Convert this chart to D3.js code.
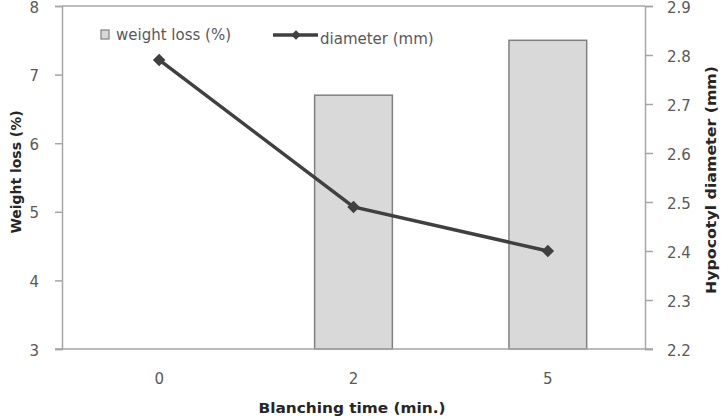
<!DOCTYPE html>
<html><head><meta charset="utf-8">
<script src="https://cdn.jsdelivr.net/npm/d3@7"></script>
<style>body{margin:0;background:#fff}svg{display:block;font-family:"DejaVu Sans",sans-serif}</style>
</head><body><svg id="c" width="721" height="417"></svg>
<script>
const categories = ["0", "2", "5"];
const weightLoss = [null, 6.7, 7.5];
const diameter = [2.79, 2.49, 2.40];
const leftTicks = [3, 4, 5, 6, 7, 8];
const rightTicks = [2.2, 2.3, 2.4, 2.5, 2.6, 2.7, 2.8, 2.9];

const svg = d3.select("#c");
const m = {l: 62, r: 645, t: 6, b: 349};
const xc = d3.scaleBand().domain(categories).range([m.l, m.r]);
const yL = d3.scaleLinear().domain([3, 8]).range([m.b, m.t]);
const yR = d3.scaleLinear().domain([2.2, 2.9]).range([m.b, m.t]);
const axisCol = "#a6a6a6", txtCol = "#595959", titleCol = "#262626";
const font = "DejaVu Sans";

// bars
svg.append("g").selectAll("rect").data(categories.map((c, i) => ({c, v: weightLoss[i]})).filter(d => d.v != null))
  .join("rect")
  .attr("x", d => xc(d.c) + xc.bandwidth() * 0.3)
  .attr("width", xc.bandwidth() * 0.4)
  .attr("y", d => yL(d.v)).attr("height", d => yL(3) - yL(d.v))
  .attr("fill", "#d9d9d9").attr("stroke", "#808080").attr("stroke-width", 1.5);

// top frame line
svg.append("line").attr("x1", m.l).attr("x2", m.r).attr("y1", m.t).attr("y2", m.t).attr("stroke", axisCol).attr("stroke-width", 1.5);

const gl = svg.append("g").attr("transform", `translate(${m.l},0)`)
  .call(d3.axisLeft(yL).tickValues(leftTicks).tickSize(7).tickPadding(16).tickFormat(d3.format("d")));
const gr = svg.append("g").attr("transform", `translate(${m.r},0)`)
  .call(d3.axisRight(yR).tickValues(rightTicks).tickSize(8).tickPadding(14).tickFormat(d3.format(".1f")));
const gb = svg.append("g").attr("transform", `translate(0,${m.b})`)
  .call(d3.axisBottom(xc).tickSize(0).tickPadding(24));
[gl, gr, gb].forEach(g => {
  g.selectAll(".domain").attr("stroke", axisCol).attr("stroke-width", 1.5);
  g.selectAll(".tick line").attr("stroke", axisCol).attr("stroke-width", 1.5);
  g.selectAll("text").attr("fill", txtCol).attr("font-size", 15).attr("font-family", font);
});
gl.selectAll(".tick text").attr("dy", "0.4em");
gr.selectAll(".tick text").attr("dy", "0.4em");
gb.select(".domain").attr("d", `M${m.l - 7},0H${m.r + 8}`);

// line series
const pts = categories.map((c, i) => ({c, v: diameter[i]}));
svg.append("path").datum(pts)
  .attr("d", d3.line().x(d => xc(d.c) + xc.bandwidth() / 2).y(d => yR(d.v)))
  .attr("fill", "none").attr("stroke", "#404040").attr("stroke-width", 3.5);
svg.append("g").selectAll("path").data(pts).join("path")
  .attr("transform", d => `translate(${xc(d.c) + xc.bandwidth() / 2},${yR(d.v)})`)
  .attr("d", d3.symbol(d3.symbolDiamond2, 100))
  .attr("fill", "#404040");

// axis titles
svg.append("text").attr("transform", "translate(21,172) rotate(-90)").attr("text-anchor", "middle")
  .attr("font-weight", "bold").attr("font-size", 14).attr("fill", titleCol)
  .attr("textLength", 123).attr("lengthAdjust", "spacingAndGlyphs").text("Weight loss (%)");
svg.append("text").attr("transform", "translate(716,180) rotate(-90)").attr("text-anchor", "middle")
  .attr("font-weight", "bold").attr("font-size", 14).attr("fill", titleCol)
  .attr("textLength", 228).attr("lengthAdjust", "spacingAndGlyphs").text("Hypocotyl diameter (mm)");
svg.append("text").attr("x", 352).attr("y", 413).attr("text-anchor", "middle")
  .attr("font-weight", "bold").attr("font-size", 14).attr("fill", titleCol)
  .attr("textLength", 187).attr("lengthAdjust", "spacingAndGlyphs").text("Blanching  time (min.)");

// legend
const lg = svg.append("g");
lg.append("rect").attr("x", 101).attr("y", 30).attr("width", 8).attr("height", 9)
  .attr("fill", "#d9d9d9").attr("stroke", "#808080").attr("stroke-width", 1.2);
lg.append("text").attr("x", 116).attr("y", 40).attr("font-size", 15).attr("fill", txtCol).text("weight loss (%)");
lg.append("line").attr("x1", 273).attr("x2", 318).attr("y1", 35).attr("y2", 35).attr("stroke", "#404040").attr("stroke-width", 3.5);
lg.append("path").attr("transform", "translate(296,35)").attr("d", d3.symbol(d3.symbolDiamond2, 60)).attr("fill", "#404040");
lg.append("text").attr("x", 320).attr("y", 44).attr("font-size", 15).attr("fill", txtCol).text("diameter (mm)");
</script></body></html>
